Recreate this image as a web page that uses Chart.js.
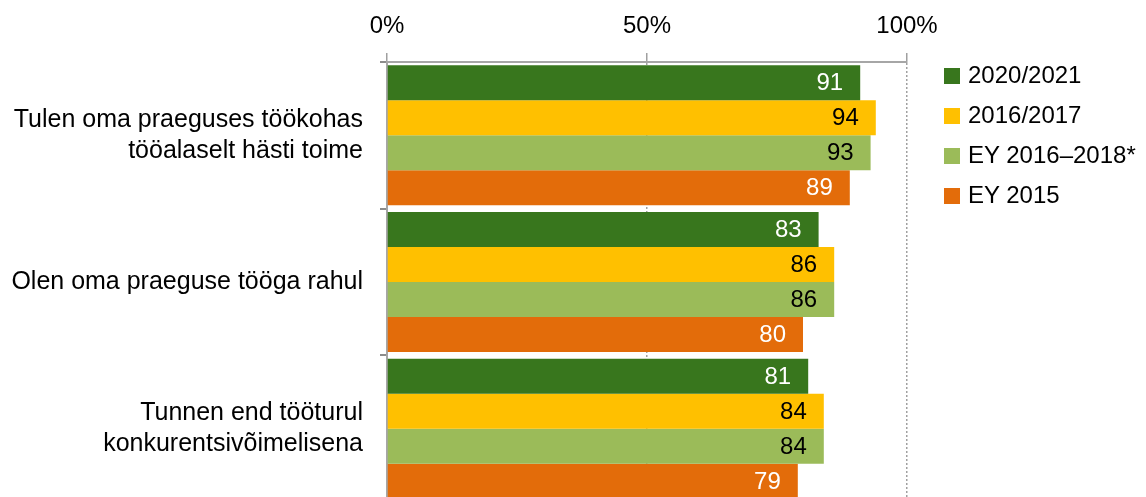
<!DOCTYPE html>
<html>
<head>
<meta charset="utf-8">
<script src="https://cdn.jsdelivr.net/npm/chart.js@4/dist/chart.umd.min.js"></script>
<style>
  html, body { margin: 0; padding: 0; background: #fff; overflow: hidden; }
  #wrap { position: relative; width: 1146px; height: 506px; }
  #legend { position: absolute; left: 944px; top: 63px; font-family: "Liberation Sans", Arial, sans-serif; font-size: 24px; color: #000; }
  #legend div { height: 40px; line-height: 24px; white-space: nowrap; }
  #legend span { display: inline-block; width: 16px; height: 16px; margin-right: 8px; vertical-align: -1px; }
</style>
</head>
<body>
<div id="wrap">
  <canvas id="barChart" width="1146" height="506"></canvas>
  <div id="legend"></div>
</div>
<script>
var categories = [
  ["Tulen oma praeguses töökohas", "tööalaselt hästi toime"],
  "Olen oma praeguse tööga rahul",
  ["Tunnen end tööturul", "konkurentsivõimelisena"]
];
var seriesNames = ["2020/2021", "2016/2017", "EY 2016–2018*", "EY 2015"];
var values2020 = [91, 83, 81];
var values2016 = [94, 86, 84];
var valuesEY1618 = [93, 86, 84];
var valuesEY2015 = [89, 80, 79];
var tickValues = [0, 50, 100];

var colors = ["#38761d", "#ffc000", "#9bbb59", "#e36c0a"];
var labelColors = ["#ffffff", "#000000", "#000000", "#ffffff"];
var FONT = "'Liberation Sans', Arial, sans-serif";

// values written at the end of each bar
var barValues = {
  id: 'barValues',
  afterDatasetsDraw: function(chart){
    var ctx = chart.ctx;
    ctx.save();
    ctx.font = "24px " + FONT;
    ctx.textAlign = "right";
    ctx.textBaseline = "middle";
    chart.data.datasets.forEach(function(ds, i){
      chart.getDatasetMeta(i).data.forEach(function(bar, j){
        ctx.fillStyle = labelColors[i];
        ctx.fillText(ds.data[j], bar.x - 17, bar.y + 1);
      });
    });
    ctx.restore();
  }
};

function init(){
  var allValues = [values2020, values2016, valuesEY1618, valuesEY2015];
  var datasets = seriesNames.map(function(name, i){
    return {
      label: name,
      data: allValues[i],
      backgroundColor: colors[i],
      barPercentage: 1,
      categoryPercentage: 0.955
    };
  });

  var ctx = document.getElementById('barChart').getContext('2d');
  var chart = new Chart(ctx, {
    type: 'bar',
    data: { labels: categories, datasets: datasets },
    options: {
      indexAxis: 'y',
      responsive: false,
      animation: false,
      layout: { padding: { right: 239, bottom: 4, left: 0, top: 0 } },
      plugins: { legend: { display: false }, tooltip: { enabled: false } },
      scales: {
        x: {
          position: 'top',
          min: 0,
          max: 100,
          afterBuildTicks: function(scale){
            scale.ticks = tickValues.map(function(v){ return { value: v }; });
          },
          afterFit: function(scale){ scale.height = 62; },
          ticks: {
            callback: function(v){ return v + "%"; },
            font: { family: FONT, size: 24 },
            color: "#000",
            padding: 12,
            maxRotation: 0
          },
          grid: {
            color: function(c){ return c.tick && c.tick.value === 0 ? "rgba(0,0,0,0)" : "#a0a0a0"; },
            lineWidth: 1.5,
            tickColor: "#a0a0a0",
            tickLength: 9,
            tickBorderDash: []
          },
          border: { display: true, color: "#a6a6a6", width: 2, dash: [2, 2] }
        },
        y: {
          afterFit: function(scale){
            scale.width = 387;
            scale.paddingTop = 0;
            scale.paddingBottom = 0;
          },
          ticks: {
            font: { family: FONT, size: 25, lineHeight: 1.24 },
            color: "#000",
            padding: 17
          },
          grid: {
            drawOnChartArea: false,
            offset: true,
            tickLength: 7,
            tickColor: "#8c8c8c",
            lineWidth: 2
          },
          border: { display: true, color: "#a6a6a6", width: 2 }
        }
      }
    },
    plugins: [barValues]
  });

  var legend = document.getElementById('legend');
  seriesNames.forEach(function(name, i){
    var row = document.createElement('div');
    var box = document.createElement('span');
    box.style.background = colors[i];
    row.appendChild(box);
    row.appendChild(document.createTextNode(name));
    legend.appendChild(row);
  });
}

init();
</script>
</body>
</html>
